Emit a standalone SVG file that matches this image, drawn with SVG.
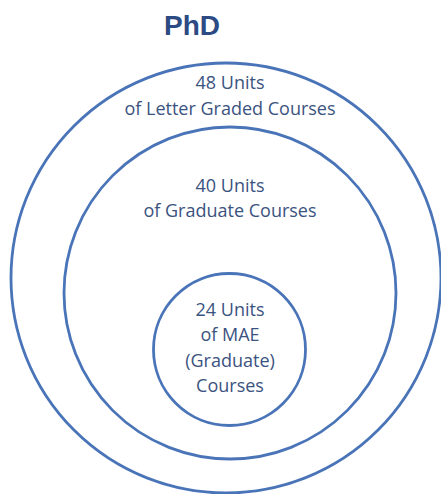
<svg xmlns="http://www.w3.org/2000/svg" width="441" height="494" viewBox="0 0 441 494">
<style>
.ring{fill:none;stroke:#4a74b8;stroke-width:2.8}
.lbl{font-family:"Open Sans","Liberation Sans",sans-serif;font-size:18px;fill:#3b5380;text-anchor:middle}
.title{font-family:"Liberation Sans",Arial,sans-serif;font-size:28px;font-weight:bold;fill:#2c4b84;text-anchor:middle}
</style>
<rect width="441" height="494" fill="#ffffff"/>
<text class="title" x="192" y="35">PhD</text>
<g id="letter-graded">
<circle class="ring" cx="226" cy="278" r="215"/>
<text class="lbl" x="230" y="89">48 Units</text>
<text class="lbl" x="230" y="115">of Letter Graded Courses</text>
</g>
<g id="graduate">
<circle class="ring" cx="230" cy="293" r="166"/>
<text class="lbl" x="230" y="192">40 Units</text>
<text class="lbl" x="230" y="217">of Graduate Courses</text>
</g>
<g id="mae">
<circle class="ring" cx="229.5" cy="349.5" r="76"/>
<text class="lbl" x="230" y="316">24 Units</text>
<text class="lbl" x="230" y="341">of MAE</text>
<text class="lbl" x="230" y="367">(Graduate)</text>
<text class="lbl" x="230" y="392">Courses</text>
</g>
<g id="connectors"/>
</svg>
